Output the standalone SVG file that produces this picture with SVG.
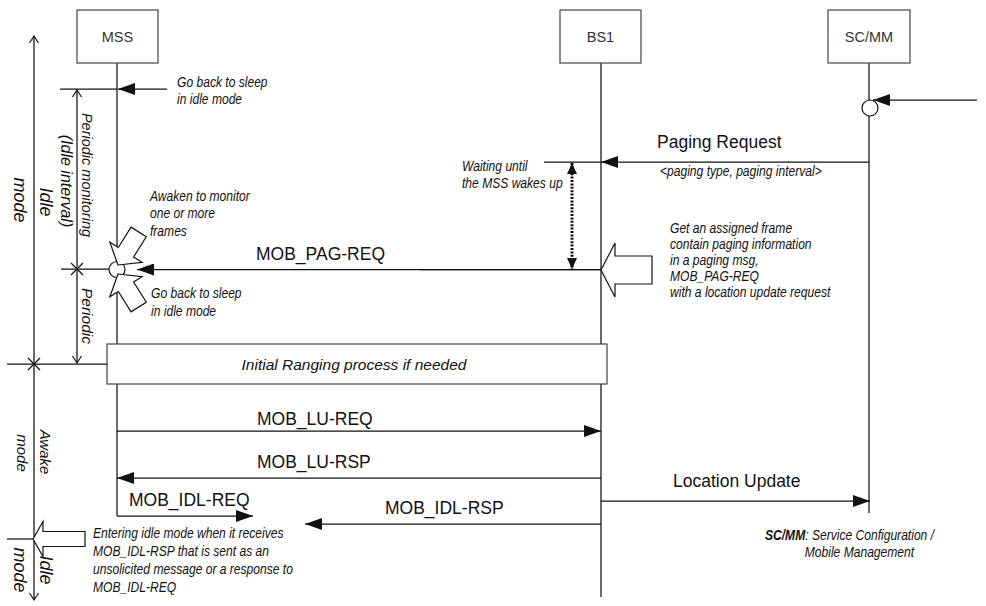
<svg xmlns="http://www.w3.org/2000/svg" width="986" height="606" viewBox="0 0 986 606">
  <defs>
    <style>
      .ln{stroke:#111;stroke-width:1.25;fill:none}
      .box{fill:#fff;stroke:#444;stroke-width:1.2}
      .blk{fill:#fff;stroke:#111;stroke-width:1.2;stroke-linejoin:miter}
      .nm{font-family:"Liberation Sans",Arial,sans-serif;font-size:14.5px;fill:#333;text-anchor:middle}
      .msg{font-family:"Liberation Sans",Arial,sans-serif;font-size:17.5px;fill:#111}
      .note{font-family:"Liberation Sans",Arial,sans-serif;font-size:15.5px;font-style:italic;fill:#111}
      .rot{font-family:"Liberation Sans",Arial,sans-serif;font-style:italic;fill:#111;text-anchor:middle}
      .dots{stroke:#111;stroke-width:3;stroke-dasharray:2 1.4;fill:none}
    </style>
    <marker id="ah" markerUnits="userSpaceOnUse" markerWidth="17" markerHeight="12" refX="17" refY="6" orient="auto">
      <path d="M0,0 L17,6 L0,12 z" fill="#111"/>
    </marker>
    <marker id="sh" markerUnits="userSpaceOnUse" markerWidth="11" markerHeight="10" refX="11" refY="5" orient="auto-start-reverse">
      <path d="M0,0 L11,5 L0,10 z" fill="#111"/>
    </marker>
    <marker id="oa" markerUnits="userSpaceOnUse" markerWidth="9" markerHeight="11" refX="8" refY="5.5" orient="auto" overflow="visible">
      <path d="M1,1 L8,5.5 L1,10" fill="none" stroke="#111" stroke-width="1.2"/>
    </marker>
    <!-- block arrow pointing along +x with its tip at the origin -->
    <polygon id="fat" points="0,0 -15,-19 -15,-9 -39,-9 -39,9 -15,9 -15,19"/>
  </defs>
  <rect width="986" height="606" fill="#fff"/>

  <!-- lifelines and participant boxes -->
  <g id="MSS">
    <line class="ln" x1="117" y1="63" x2="117" y2="516"/>
    <rect class="box" x="77" y="10" width="81" height="53"/>
    <text class="nm" x="117.5" y="42">MSS</text>
  </g>
  <g id="BS1">
    <line class="ln" x1="601" y1="63" x2="601" y2="597"/>
    <rect class="box" x="560" y="10" width="81" height="53"/>
    <text class="nm" x="600.5" y="42">BS1</text>
  </g>
  <g id="SCMM">
    <line class="ln" x1="869" y1="63" x2="869" y2="513"/>
    <rect class="box" x="828" y="10" width="82" height="53"/>
    <text class="nm" x="869" y="42">SC/MM</text>
  </g>

  <!-- mode dimension lines on the left -->
  <g id="modes">
    <line class="ln" x1="34" y1="364" x2="34" y2="36" marker-end="url(#oa)"/>
    <line class="ln" x1="34" y1="364" x2="34" y2="600" marker-end="url(#oa)"/>
    <line class="ln" x1="7" y1="364" x2="107" y2="364"/>
    <path class="ln" d="M28,358 L40,370 M40,358 L28,370"/>
    <line class="ln" x1="7" y1="539" x2="34" y2="539"/>
    <line class="ln" x1="60" y1="89" x2="117" y2="89"/>
    <line class="ln" x1="77" y1="269" x2="77" y2="90" marker-end="url(#oa)"/>
    <line class="ln" x1="77" y1="269" x2="77" y2="363" marker-end="url(#oa)"/>
    <line class="ln" x1="61" y1="269" x2="110" y2="269"/>
    <path class="ln" d="M71,263 L83,275 M83,263 L71,275"/>
    <text class="rot" font-size="14.5" transform="translate(82,175) rotate(90)">Periodic monitoring</text>
    <text class="rot" font-size="16" transform="translate(61,181) rotate(90)">(Idle interval)</text>
    <text class="rot" font-size="18" transform="translate(40,202) rotate(90)">Idle</text>
    <text class="rot" font-size="18" transform="translate(14,200) rotate(90)">mode</text>
    <text class="rot" font-size="15.5" transform="translate(82,316) rotate(90)">Periodic</text>
    <text class="rot" font-size="15" transform="translate(40,452) rotate(90)">Awake</text>
    <text class="rot" font-size="15" transform="translate(17,453) rotate(90)">mode</text>
    <text class="rot" font-size="18" transform="translate(40,570) rotate(90)">Idle</text>
    <text class="rot" font-size="18" transform="translate(14,570) rotate(90)">mode</text>
  </g>

  <!-- wake-up point on the MSS lifeline -->
  <g id="wake">
    <circle cx="117" cy="269.5" r="8" fill="#fff" stroke="#111" stroke-width="1.2"/>
    <use href="#fat" class="blk" transform="translate(118,265) rotate(122)"/>
    <g transform="translate(0,539) scale(1,-1)">
      <use href="#fat" class="blk" transform="translate(118,265) rotate(122)"/>
    </g>
  </g>

  <!-- trigger point on the SC/MM lifeline -->
  <g id="trigger">
    <circle cx="870" cy="108" r="8" fill="#fff" stroke="#111" stroke-width="1.2"/>
  </g>

  <!-- ranging step -->
  <g id="ranging">
    <rect class="box" x="107" y="344" width="500" height="40" stroke="#222"/>
    <text class="note" x="354" y="370" text-anchor="middle" font-size="15">Initial Ranging process if needed</text>
  </g>

  <!-- messages -->
  <g id="connectors">
    <line class="ln" x1="167" y1="89" x2="118" y2="89" marker-end="url(#ah)"/>
    <line class="ln" x1="977" y1="100" x2="873" y2="100" marker-end="url(#ah)"/>
    <line class="ln" x1="869" y1="162" x2="601" y2="162" marker-end="url(#ah)"/>
    <line class="ln" x1="544" y1="162" x2="601" y2="162"/>
    <line class="dots" x1="572" y1="163" x2="572" y2="269" marker-start="url(#sh)" marker-end="url(#sh)"/>
    <line class="ln" x1="420" y1="269.5" x2="601" y2="269.5"/>
    <line class="ln" x1="601" y1="269.5" x2="137" y2="269.5" marker-end="url(#ah)"/>
    <polygon class="blk" points="601,270 615,243 615,256 652,256 652,284 615,284 615,297"/>
    <line class="ln" x1="117" y1="431" x2="601" y2="431" marker-end="url(#ah)"/>
    <line class="ln" x1="601" y1="478" x2="117" y2="478" marker-end="url(#ah)"/>
    <line class="ln" x1="601" y1="501" x2="870" y2="501" marker-end="url(#ah)"/>
    <line class="ln" x1="117" y1="516" x2="253" y2="516" marker-end="url(#ah)"/>
    <line class="ln" x1="601" y1="524" x2="305" y2="524" marker-end="url(#ah)"/>
    <polygon class="blk" points="33,539 43,521.5 43,531.5 85,531.5 85,546.5 43,546.5 43,556.5"/>
  </g>

  <!-- message labels -->
  <g id="labels">
    <text class="msg" x="657" y="148" font-size="18">Paging Request</text>
    <text class="msg" x="256" y="260">MOB_PAG-REQ</text>
    <text class="msg" x="257" y="425">MOB_LU-REQ</text>
    <text class="msg" x="257" y="468">MOB_LU-RSP</text>
    <text class="msg" x="673" y="487">Location Update</text>
    <text class="msg" x="129" y="506">MOB_IDL-REQ</text>
    <text class="msg" x="385" y="514">MOB_IDL-RSP</text>
  </g>

  <!-- annotations (condensed italic) -->
  <g id="notes">
    <g transform="translate(177,87) scale(0.78,1)">
      <text class="note"><tspan x="0" y="0">Go back to sleep</tspan><tspan x="0" y="17">in idle mode</tspan></text>
    </g>
    <g transform="translate(150,201) scale(0.78,1)">
      <text class="note"><tspan x="0" y="0">Awaken to monitor</tspan><tspan x="0" y="17.5">one or more</tspan><tspan x="0" y="35">frames</tspan></text>
    </g>
    <g transform="translate(151,298) scale(0.78,1)">
      <text class="note"><tspan x="0" y="0">Go back to sleep</tspan><tspan x="0" y="18">in idle mode</tspan></text>
    </g>
    <g transform="translate(462,171) scale(0.78,1)">
      <text class="note"><tspan x="0" y="0">Waiting until</tspan><tspan x="0" y="17">the MSS wakes up</tspan></text>
    </g>
    <g transform="translate(660,176) scale(0.78,1)">
      <text class="note">&lt;paging type, paging interval&gt;</text>
    </g>
    <g transform="translate(670,233) scale(0.78,1)">
      <text class="note"><tspan x="0" y="0">Get an assigned frame</tspan><tspan x="0" y="16">contain paging information</tspan><tspan x="0" y="32">in a paging msg,</tspan><tspan x="0" y="48">MOB_PAG-REQ</tspan><tspan x="0" y="64">with a location update request</tspan></text>
    </g>
    <g transform="translate(93,538) scale(0.78,1)">
      <text class="note"><tspan x="0" y="0">Entering idle mode when it receives</tspan><tspan x="0" y="18">MOB_IDL-RSP that is sent as an</tspan><tspan x="0" y="36">unsolicited message or a response to</tspan><tspan x="0" y="54">MOB_IDL-REQ</tspan></text>
    </g>
    <g transform="translate(765,540) scale(0.78,1)">
      <text class="note"><tspan font-weight="bold">SC/MM</tspan>: Service Configuration /<tspan x="51" y="17">Mobile Management</tspan></text>
    </g>
  </g>
</svg>
